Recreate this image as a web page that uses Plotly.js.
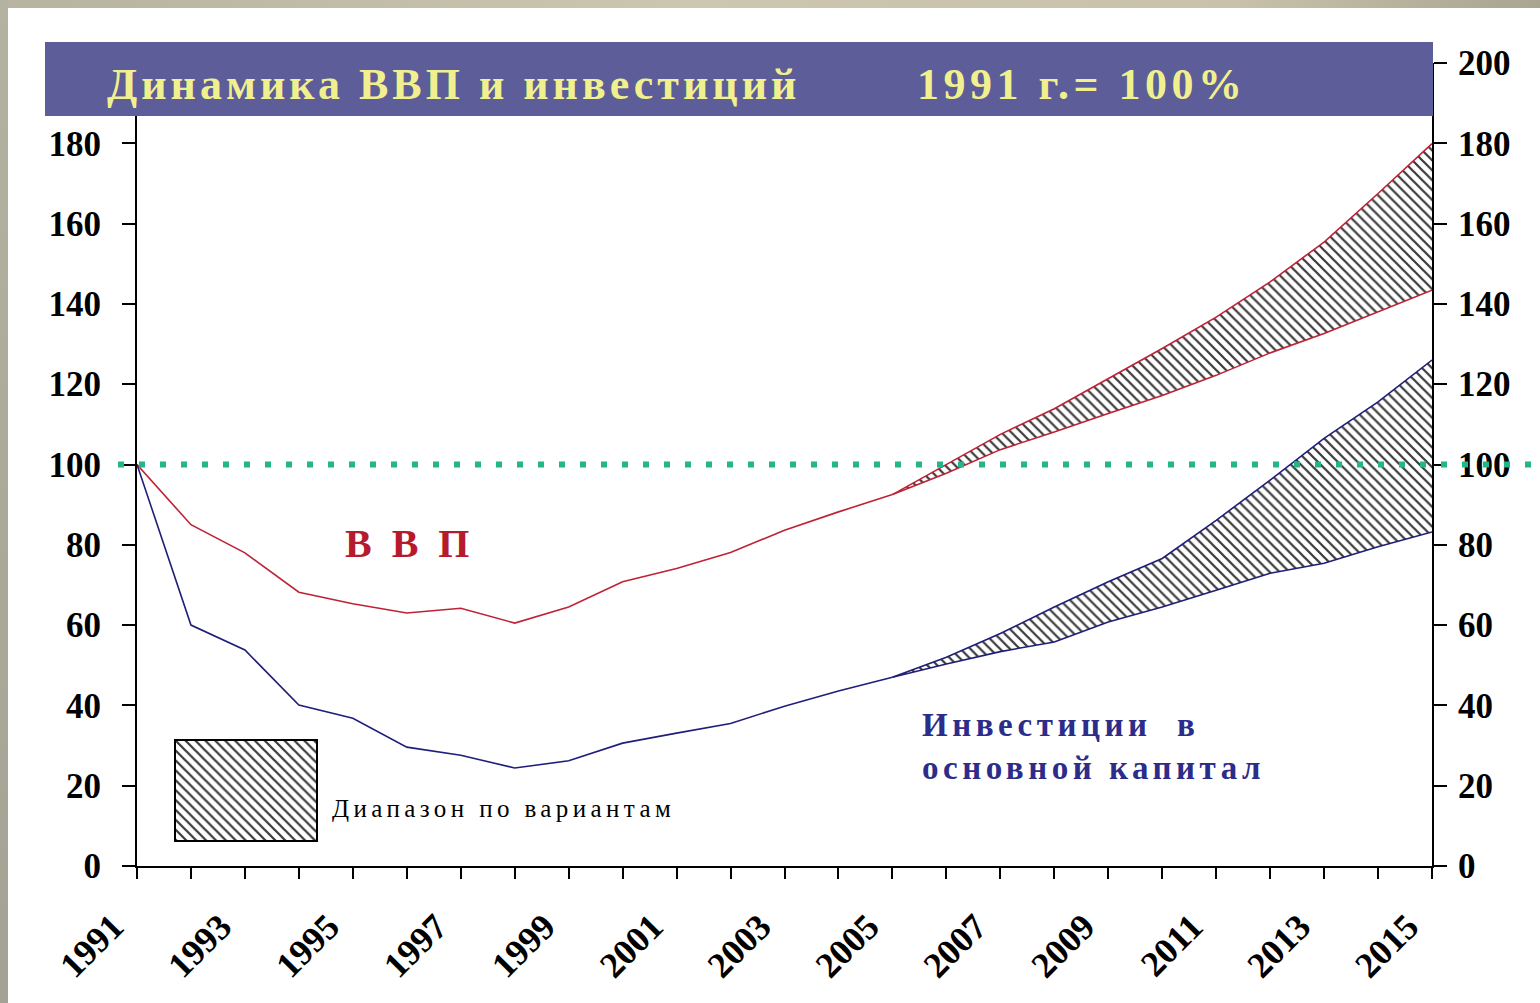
<!DOCTYPE html>
<html>
<head>
<meta charset="utf-8">
<script src="https://cdn.plot.ly/plotly-3.0.1.min.js"></script>
<style>
html,body{margin:0;padding:0;width:1540px;height:1003px;overflow:hidden;background:#fff;}
#frameTop{position:absolute;left:0;top:0;width:1540px;height:8px;background:linear-gradient(to right,#b6b3a1,#cdc6b0 45%,#c9c1aa 80%,#a9a592);}
#frameLeft{position:absolute;left:0;top:0;width:8px;height:1003px;background:linear-gradient(to bottom,#b4b2a1,#a3a294);}
#chart{position:absolute;left:0;top:0;width:1540px;height:1003px;}
.gtitle{letter-spacing:4px;}
.annotation[data-index="0"] .annotation-text{letter-spacing:4.5px;}
.annotation[data-index="2"] .annotation-text{letter-spacing:4.5px;}
.annotation[data-index="3"] .annotation-text{letter-spacing:4.4px;}
</style>
</head>
<body>
<div id="frameTop"></div>
<div id="frameLeft"></div>
<div id="chart"></div>
<script>
// ---- data (index, 1991 = 100) ----
const histYears = [1991,1992,1993,1994,1995,1996,1997,1998,1999,2000,2001,2002,2003,2004,2005];
const gdpHist   = [100, 85.0, 78.0, 68.2, 65.3, 63.0, 64.2, 60.5, 64.5, 70.8, 74.1, 78.1, 83.6, 88.2, 92.5];
const invHist   = [100, 60.0, 53.8, 40.1, 36.8, 29.6, 27.6, 24.4, 26.2, 30.6, 33.1, 35.5, 39.8, 43.6, 47.0];

const fcYears   = [2005,2006,2007,2008,2009,2010,2011,2012,2013,2014,2015];
const gdpLow    = [92.5, 97.8, 103.7, 108.1, 112.7, 117.2, 122.2, 127.8, 132.6, 138.0, 143.4];
const gdpHigh   = [92.5, 100.0, 107.5, 113.9, 121.4, 128.9, 136.7, 145.5, 155.4, 167.5, 179.9];
const invLow    = [47.0, 50.3, 53.4, 55.8, 60.8, 64.5, 68.7, 72.9, 75.4, 79.5, 83.2];
const invHigh   = [47.0, 52.0, 57.9, 64.5, 70.8, 76.6, 86.1, 96.1, 106.5, 115.6, 126.0];

const baseLevel = 100;
const yTickVals = [0,20,40,60,80,100,120,140,160,180,200];
const swatchX = [0,1,1,0,0];
const swatchY = [0,0,1,1,0];

// ---- styles ----
const RED = '#bf2236';
const NAVY = '#1f1f7a';
const SERIF = 'Liberation Serif, Times New Roman, serif';
const hatch = {shape:'\\', fgcolor:'#3a3a3a', bgcolor:'#ffffff', size:7, solidity:0.32};

// pixel -> paper helpers for the plot area (l=137, r=1432, top=63, bottom=866)
const W = 1540, H = 1003;
const L = 137, R = 1432, T = 63, B = 866;
const px = v => (v - L) / (R - L);
const py = v => (B - v) / (B - T);

const traces = [
  {x: histYears, y: gdpHist, mode:'lines', line:{color:RED, width:1.6}, showlegend:false},
  {x: fcYears, y: gdpLow, mode:'lines', line:{color:RED, width:1.6}, showlegend:false},
  {x: fcYears, y: gdpHigh, mode:'lines', line:{color:RED, width:1.6}, fill:'tonexty', fillcolor:'rgba(0,0,0,0)', fillpattern:hatch, showlegend:false},
  {x: histYears, y: invHist, yaxis:'y2', mode:'lines', line:{color:NAVY, width:1.6}, showlegend:false},
  {x: fcYears, y: invLow, yaxis:'y2', mode:'lines', line:{color:NAVY, width:1.6}, showlegend:false},
  {x: fcYears, y: invHigh, yaxis:'y2', mode:'lines', line:{color:NAVY, width:1.6}, fill:'tonexty', fillcolor:'rgba(0,0,0,0)', fillpattern:hatch, showlegend:false},
  {x: swatchX, y: swatchY, xaxis:'x3', yaxis:'y3', mode:'lines', line:{width:0, color:'#000'}, fill:'toself', fillcolor:'rgba(0,0,0,0)', fillpattern:hatch, showlegend:false}
];

const yTickFont = {family:SERIF, size:35, weight:'bold', color:'#000'};
const yCommon = {
  range:[0,200], tickvals:yTickVals, ticks:'outside', ticklen:13, tickwidth:2, tickcolor:'#000',
  showline:true, linecolor:'#000', linewidth:2, showgrid:false, zeroline:false,
  tickfont:yTickFont, fixedrange:true
};

const layout = {
  width:W, height:H,
  margin:{l:L, r:W-R, t:T, b:H-B, pad:0},
  paper_bgcolor:'rgba(0,0,0,0)', plot_bgcolor:'rgba(0,0,0,0)',
  showlegend:false,
  title:{
    text:'Динамика ВВП и инвестиций',
    x:107/W, xref:'container', xanchor:'left',
    y:1-84/H, yref:'container', yanchor:'middle',
    font:{family:SERIF, size:44, weight:'bold', color:'#f1f08e'}
  },
  xaxis:{
    range:[1991,2015], tick0:1991, dtick:2, ticks:'outside', ticklen:11, tickwidth:2, tickcolor:'#000',
    showline:true, linecolor:'#000', linewidth:2, showgrid:false, zeroline:false, tickangle:-45,
    tickfont:{family:SERIF, size:36, weight:'bold', color:'#000'},
    ticklabelstandoff:12, ticklabelshift:-24,
    minor:{tick0:1991, dtick:1, ticks:'outside', ticklen:11, tickwidth:2, tickcolor:'#000', showgrid:false},
    fixedrange:true
  },
  yaxis:Object.assign({}, yCommon, {ticklabelstandoff:14}),
  yaxis2:Object.assign({}, yCommon, {overlaying:'y', side:'right', ticklabelstandoff:4}),
  xaxis3:{domain:[px(176), px(316)], anchor:'y3', range:[0,1], showline:true, mirror:true, linecolor:'#000', linewidth:2,
          showticklabels:false, ticks:'', showgrid:false, zeroline:false, fixedrange:true},
  yaxis3:{domain:[py(840), py(741)], anchor:'x3', range:[0,1], showline:true, mirror:true, linecolor:'#000', linewidth:2,
          showticklabels:false, ticks:'', showgrid:false, zeroline:false, fixedrange:true},
  shapes:[
    {type:'rect', xref:'paper', yref:'paper', x0:px(45), x1:px(1433), y0:py(116), y1:py(42),
     fillcolor:'#5d5d99', line:{width:0}, layer:'above'},
    {type:'line', xref:'paper', yref:'y', x0:px(118), x1:px(1545), y0:baseLevel, y1:baseLevel,
     line:{color:'#22b68a', width:6, dash:'6px,15px'}, layer:'above'}
  ],
  annotations:[
    {text:'1991 г.= 100%', xref:'paper', yref:'paper', x:px(915), y:py(84), xanchor:'left', yanchor:'middle', align:'left',
     showarrow:false, font:{family:SERIF, size:44, weight:'bold', color:'#f1f08e'}},
    {text:'В  В  П', xref:'paper', yref:'paper', x:px(407), y:py(543), xanchor:'center', yanchor:'middle',
     showarrow:false, font:{family:SERIF, size:40, weight:'bold', color:'#b51b2c'}},
    {text:'Инвестиции  в<br>основной капитал', xref:'paper', yref:'paper', x:px(920), y:py(746), xanchor:'left', yanchor:'middle',
     align:'left', showarrow:false, font:{family:SERIF, size:33, weight:'bold', color:'#2c2c8a'}},
    {text:'Диапазон по вариантам', xref:'paper', yref:'paper', x:px(330), y:py(808), xanchor:'left', yanchor:'middle',
     align:'left', showarrow:false, font:{family:SERIF, size:25, color:'#000'}}
  ]
};

Plotly.newPlot('chart', traces, layout, {staticPlot:true, displayModeBar:false});
</script>
</body>
</html>
